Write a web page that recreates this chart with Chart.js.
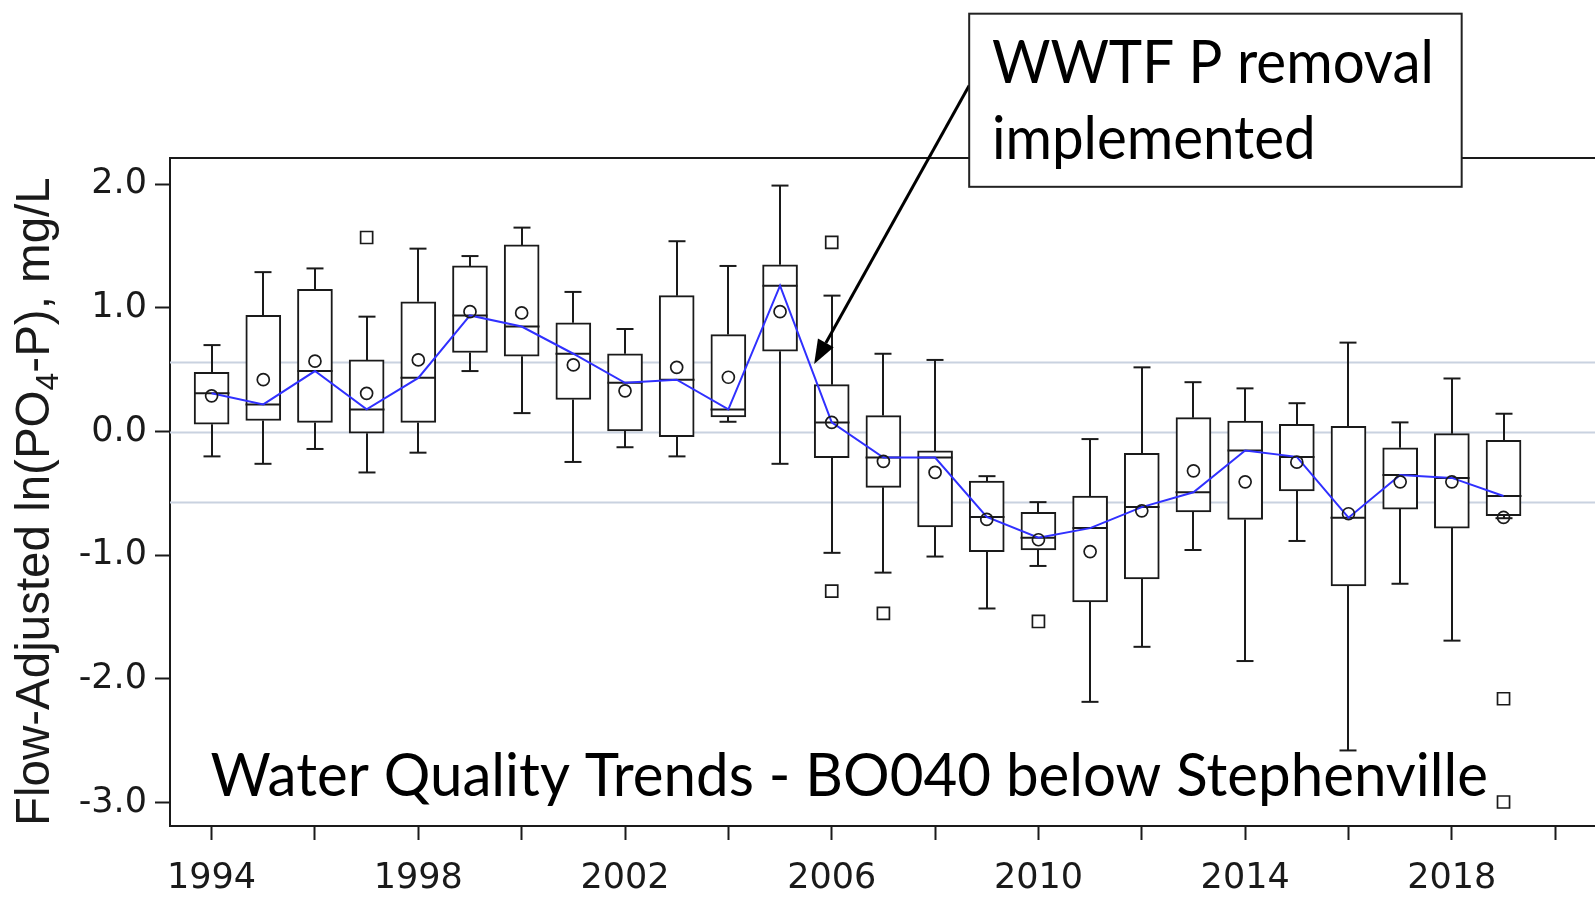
<!DOCTYPE html>
<html>
<head>
<meta charset="utf-8">
<script src="https://cdn.jsdelivr.net/npm/chart.js@4.4.1/dist/chart.umd.min.js"></script>
<style>
  html, body { margin: 0; padding: 0; background: #fff; overflow: hidden; }
  #wrap { width: 1595px; height: 900px; }
</style>
</head>
<body>
<div id="wrap"><canvas id="myChart" width="1595" height="900"></canvas></div>
<script>
// yearly box plot values, flow-adjusted ln(PO4-P)
const years = [1994, 1995, 1996, 1997, 1998, 1999, 2000, 2001, 2002, 2003, 2004, 2005, 2006,
               2007, 2008, 2009, 2010, 2011, 2012, 2013, 2014, 2015, 2016, 2017, 2018, 2019];
const whiskerHigh = [0.70, 1.29, 1.32, 0.93, 1.48, 1.42, 1.65, 1.13, 0.83, 1.54, 1.34, 1.99, 1.10,
                     0.63, 0.58, -0.36, -0.57, -0.06, 0.52, 0.40, 0.35, 0.23, 0.72, 0.075, 0.43, 0.145];
const q3 = [0.48, 0.94, 1.15, 0.58, 1.05, 1.34, 1.51, 0.88, 0.63, 1.10, 0.785, 1.35, 0.38,
            0.13, -0.156, -0.40, -0.653, -0.52, -0.175, 0.113, 0.086, 0.06, 0.043, -0.13, -0.016, -0.07];
const medians = [0.31, 0.22, 0.49, 0.18, 0.435, 0.94, 0.85, 0.63, 0.395, 0.42, 0.18, 1.18, 0.075,
                 -0.21, -0.21, -0.69, -0.858, -0.78, -0.61, -0.49, -0.153, -0.204, -0.696, -0.35, -0.374, -0.52];
const q1 = [0.06, 0.09, 0.075, -0.013, 0.075, 0.64, 0.61, 0.26, 0.005, -0.04, 0.12, 0.65, -0.21,
            -0.45, -0.77, -0.97, -0.957, -1.376, -1.19, -0.65, -0.71, -0.48, -1.247, -0.626, -0.78, -0.68];
const whiskerLow = [-0.20, -0.26, -0.14, -0.33, -0.17, 0.49, 0.15, -0.245, -0.126, -0.20, 0.08, -0.26, -0.98,
                    -1.14, -1.01, -1.43, -1.086, -2.185, -1.74, -0.957, -1.855, -0.884, -2.578, -1.23, -1.69, -0.70];
const means = [0.29, 0.42, 0.57, 0.31, 0.58, 0.97, 0.96, 0.54, 0.33, 0.52, 0.44, 0.97, 0.075,
               -0.24, -0.33, -0.71, -0.874, -0.97, -0.64, -0.317, -0.406, -0.247, -0.664, -0.406, -0.406, -0.694];
const outlierYears = [1997, 2006, 2006, 2007, 2010, 2019, 2019];
const outlierValues = [1.57, 1.53, -1.29, -1.47, -1.535, -2.16, -2.995];
const refLines = [0.565, 0, -0.565];
const yTicks = [-3, -2, -1, 0, 1, 2];
const xLabelYears = [1994, 1998, 2002, 2006, 2010, 2014, 2018];

const BLACK = '#1a1a1a';
const TICK_FONT = { family: 'DejaVu Sans', size: 35 };
const NOTE_FONT = 'Lato';

// draws text at size px, squeezed/stretched to the given width
function fitText(ctx, text, x, y, size, width, family) {
  ctx.font = size + 'px "' + family + '"';
  const w = ctx.measureText(text).width;
  ctx.save();
  ctx.translate(x, y);
  ctx.scale(width / w, 1);
  ctx.fillText(text, 0, 0);
  ctx.restore();
}

const boxPlot = {
  id: 'boxPlot',
  beforeDatasetsDraw(chart) {
    const { ctx, chartArea: a, scales: { y } } = chart;
    ctx.save();
    ctx.strokeStyle = '#c9d2e0';
    ctx.lineWidth = 2;
    refLines.forEach(v => {
      const py = Math.round(y.getPixelForValue(v)) + 0.5;
      ctx.beginPath(); ctx.moveTo(a.left, py); ctx.lineTo(a.right, py); ctx.stroke();
    });
    ctx.restore();
  },
  afterDatasetDraw(chart, args) {
    if (args.index !== 0) return;
    const { ctx, scales: { x, y } } = chart;
    const half = 17.5, cap = 8.5;
    ctx.save();
    ctx.strokeStyle = BLACK;
    ctx.lineWidth = 2;
    years.forEach((yr, i) => {
      const px = Math.round(x.getPixelForValue(yr));
      const line = (x1, y1, x2, y2) => { ctx.beginPath(); ctx.moveTo(x1, y1); ctx.lineTo(x2, y2); ctx.stroke(); };
      const hi = y.getPixelForValue(whiskerHigh[i]), lo = y.getPixelForValue(whiskerLow[i]);
      const b3 = y.getPixelForValue(q3[i]), b1 = y.getPixelForValue(q1[i]);
      const md = y.getPixelForValue(medians[i]);
      line(px, hi, px, b3); line(px - cap, hi, px + cap, hi);
      line(px, b1, px, lo); line(px - cap, lo, px + cap, lo);
      line(px - half, md, px + half, md);
    });
    ctx.restore();
  },
  afterDraw(chart) {
    const { ctx, chartArea: a, scales: { x, y } } = chart;
    ctx.save();
    // top frame line
    ctx.strokeStyle = BLACK; ctx.lineWidth = 2;
    ctx.beginPath(); ctx.moveTo(a.left, a.top); ctx.lineTo(chart.width, a.top); ctx.stroke();

    // y axis title with subscript
    ctx.fillStyle = BLACK;
    ctx.translate(49, a.bottom);
    ctx.rotate(-Math.PI / 2);
    ctx.textBaseline = 'alphabetic';
    let u = 0;
    const parts = [['Flow-Adjusted ln(PO', 47.5, 0], ['4', 32, 9], ['-P), mg/L', 47.5, 0]];
    parts.forEach(([t, s, dy]) => {
      ctx.font = s + 'px "Liberation Sans"';
      ctx.fillText(t, u, dy);
      u += ctx.measureText(t).width;
    });
    ctx.setTransform(1, 0, 0, 1, 0, 0);

    // arrow from the note to 2006
    const ax = x.getPixelForValue(2008.66), ay = y.getPixelForValue(2.80);
    const tx = x.getPixelForValue(2005.66), ty = y.getPixelForValue(0.548);
    const ang = Math.atan2(ty - ay, tx - ax);
    const hl = 24, hw = 9;
    const bx = tx - hl * Math.cos(ang), by = ty - hl * Math.sin(ang);
    ctx.strokeStyle = '#000'; ctx.lineWidth = 3;
    ctx.beginPath(); ctx.moveTo(ax, ay); ctx.lineTo(bx, by); ctx.stroke();
    ctx.fillStyle = '#000';
    ctx.beginPath();
    ctx.moveTo(tx, ty);
    ctx.lineTo(bx + hw * Math.sin(ang), by - hw * Math.cos(ang));
    ctx.lineTo(bx - hw * Math.sin(ang), by + hw * Math.cos(ang));
    ctx.closePath(); ctx.fill();

    // note box
    const nl = x.getPixelForValue(2008.66), nr = x.getPixelForValue(2018.19);
    const nt = y.getPixelForValue(3.38), nb = y.getPixelForValue(1.98);
    ctx.fillStyle = '#fff';
    ctx.fillRect(nl, nt, nr - nl, nb - nt);
    ctx.strokeStyle = '#222'; ctx.lineWidth = 2;
    ctx.strokeRect(nl, nt, nr - nl, nb - nt);
    ctx.fillStyle = '#000';
    ctx.textAlign = 'left';
    const tl = x.getPixelForValue(2009.10);
    const w1 = x.getPixelForValue(2017.65) - tl;
    ctx.font = '60px "' + NOTE_FONT + '"';
    const sx = w1 / ctx.measureText('WWTF P removal').width;
    fitText(ctx, 'WWTF P removal', tl, y.getPixelForValue(2.816), 60, w1, NOTE_FONT);
    ctx.font = '60px "' + NOTE_FONT + '"';
    const w2 = ctx.measureText('implemented').width * sx;
    fitText(ctx, 'implemented', tl, y.getPixelForValue(2.205), 60, w2, NOTE_FONT);

    // station caption
    const cl = x.getPixelForValue(1993.98), cr = x.getPixelForValue(2018.70);
    fitText(ctx, 'Water Quality Trends - BO040 below Stephenville', cl, y.getPixelForValue(-2.95), 60, cr - cl, NOTE_FONT);
    ctx.restore();
  }
};

const data = {
  datasets: [{
    type: 'bar',
    label: 'IQR',
    data: years.map((yr, i) => ({ x: yr, y: [q1[i], q3[i]] })),
    backgroundColor: '#fff',
    borderColor: BLACK,
    borderWidth: 2,
    borderSkipped: false,
    barThickness: 35,
    order: 4
  },
  {
    type: 'line',
    label: 'Median',
    data: years.map((yr, i) => ({ x: yr, y: medians[i] })),
    borderColor: '#3030ff',
    borderWidth: 2,
    pointRadius: 0,
    tension: 0,
    order: 3
  },
  {
    type: 'line',
    label: 'Mean',
    data: years.map((yr, i) => ({ x: yr, y: means[i] })),
    showLine: false,
    pointStyle: 'circle',
    pointRadius: 6,
    pointBorderWidth: 1.7,
    pointBorderColor: BLACK,
    pointBackgroundColor: 'rgba(0,0,0,0)',
    order: 2
  },
  {
    type: 'line',
    label: 'Outliers',
    data: outlierYears.map((yr, i) => ({ x: yr, y: outlierValues[i] })),
    showLine: false,
    pointStyle: 'rect',
    pointRadius: 8.5,
    pointBorderWidth: 1.7,
    pointBorderColor: BLACK,
    pointBackgroundColor: 'rgba(0,0,0,0)',
    order: 1
  }]
};

const config = {
  type: 'bar',
  data,
  options: {
    responsive: false,
    animation: false,
    layout: { autoPadding: false, padding: { top: 158, right: 0, left: 0, bottom: 0 } },
    plugins: { legend: { display: false }, tooltip: { enabled: false } },
    scales: {
      x: {
        type: 'linear',
        offset: false,
        min: 1993.195,
        max: 2020.77,
        afterFit(scale) { scale.height = 74; scale.paddingRight = 0; scale.paddingLeft = 0; },
        ticks: {
          stepSize: 2,
          includeBounds: false,
          autoSkip: false,
          maxRotation: 0,
          padding: 18,
          color: BLACK,
          font: TICK_FONT,
          callback: v => xLabelYears.includes(v) ? String(v) : ''
        },
        grid: { offset: false, drawOnChartArea: false, tickLength: 14, tickColor: BLACK, tickWidth: 2 },
        border: { color: BLACK, width: 2 }
      },
      y: {
        min: -3.189,
        max: 2.213,
        afterFit(scale) { scale.width = 170; scale.paddingTop = 0; scale.paddingBottom = 0; },
        afterBuildTicks(scale) { scale.ticks = yTicks.map(v => ({ value: v })); },
        ticks: {
          padding: 8,
          color: BLACK,
          font: TICK_FONT,
          callback: v => v.toFixed(1)
        },
        grid: { drawOnChartArea: false, tickLength: 15, tickColor: BLACK, tickWidth: 2 },
        border: { color: BLACK, width: 2 }
      }
    }
  },
  plugins: [boxPlot]
};

const myChart = new Chart(document.getElementById('myChart'), config);
</script>
</body>
</html>
